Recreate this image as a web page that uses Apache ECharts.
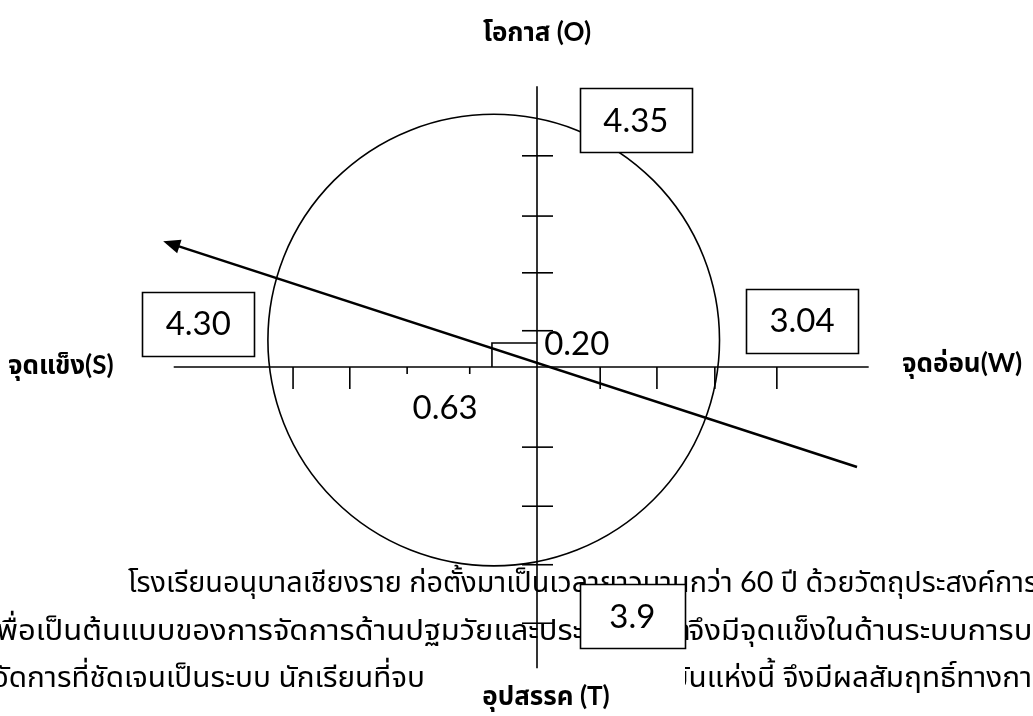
<!DOCTYPE html>
<html><head><meta charset="utf-8">
<script src="https://cdn.jsdelivr.net/npm/echarts@6/dist/echarts.min.js"></script>
<style>html,body{margin:0;padding:0;background:#fff;overflow:hidden}#c{width:1033px;height:716px}</style>
</head><body><div id="c"></div>
<script>
// ---------- values ----------
const quadrantNames = ['โอกาส', 'จุดแข็ง', 'จุดอ่อน', 'อุปสรรค'];
const quadrantLetters = ['O', 'S', 'W', 'T'];
const quadrantScores = [4.35, 4.30, 3.04, 3.9];
const scoreLabels = ['4.35', '4.30', '3.04', '3.9'];
const offsetValues = [0.20, 0.63];
const offsetLabels = ['0.20', '0.63'];

// ---------- diagram geometry (axis units) ----------
const scoreBoxPos = [[1.69, 4.22], [-5.79, 0.74], [4.53, 0.79], [1.63, -4.26]];
const offsetLabelPos = [[0.68, 0.39], [-1.57, -0.70]];
const hAxisRange = [-6.21, 5.67];
const vAxisRange = [-5.15, 4.80];
const xTicksLong = [-4.17, -3.20, 1.08, 2.05, 3.04, 4.10];
const xTicksShort = [-2.22, -1.15];
const yTicks = [3.61, 2.58, 1.61, 0.62, -1.37, -2.38, -3.38, -4.38];
const circleDef = [-0.74, 0.46, 3.86];
const arrowDef = [5.47, -1.71, -6.39, 2.15];
const rightAngle = [-0.77, 0.41];

// ---------- paragraph ----------
const paraLine1 = 'โรงเรียนอนุบาลเชียงราย ก่อตั้งมาเป็นเวลายาวนานกว่า 60 ปี ด้วยวัตถุประสงค์การ';
const paraLine1Tail = 'จัดตั้ง';
const paraLine2a = 'เพื่อเป็นต้นแบบของการจัดการด้านปฐมวัยและประ';
const paraLine2aHidden = 'ถมศึกษา';
const paraLine2b = 'จึงมีจุดแข็งในด้านระบบการบริหาร';
const paraLine3a = 'จัดการที่ชัดเจนเป็นระบบ นักเรียนที่จบ';
const paraLine3b = 'บันแห่งนี้ จึงมีผลสัมฤทธิ์ทางการเรียนสูง';

const W = 1033, H = 716, OX = 537, OY = 367, U = 58.5;
const THAI = 'Lato, "Noto Sans Thai", "Noto Sans Thai UI", Loma, Garuda, sans-serif';
const PARA_SIZE = 29;
const paraFont = PARA_SIZE + 'px ' + THAI;
const NUM_FONT = '33px Lato, "Open Sans", sans-serif';

const mctx = document.createElement('canvas').getContext('2d');
function tw(t, font) { mctx.font = font; return mctx.measureText(t).width; }

const chart = echarts.init(document.getElementById('c'), null, {renderer: 'canvas'});
const BLACK = '#000';

function paraText(text, x, midY, sx, align) {
  return {type: 'text', z: 0, x: x, y: midY, scaleX: sx, silent: true,
    style: {text: text, font: paraFont, fill: '#000', align: align || 'left', verticalAlign: 'middle'}};
}
const L1 = 583, L2 = 631, L3 = 678;
// horizontal fit of each paragraph line to the reference layout
const s1 = 910 / tw(paraLine1, paraFont);
const s2 = 595 / tw(paraLine2a, paraFont);
const s3 = 432 / tw(paraLine3a, paraFont);
const graphics = [
  paraText(paraLine1 + paraLine1Tail, 128, L1, s1),
  paraText(paraLine2a + paraLine2aHidden, 583 - s2 * tw(paraLine2a, paraFont), L2, s2),
  paraText(paraLine2b, 688, L2, s2),
  paraText(paraLine3a, 425, L3, s3, 'right'),
  paraText(paraLine3b, 685 - s3 * tw('บ', paraFont) * 0.8, L3, s3),
  {type: 'rect', z: 1, silent: true, shape: {x: 426, y: 655, width: 259, height: 61}, style: {fill: '#fff'}}
];

function lineSeries(name, data, render, z) {
  return {type: 'custom', name: name, data: data, renderItem: render, z: z || 3, silent: true, clip: false, animation: false};
}

const option = {
  animation: false,
  grid: {left: 0, right: 0, top: 0, bottom: 0},
  xAxis: {type: 'value', min: -OX / U, max: (W - OX) / U, show: false},
  yAxis: {type: 'value', min: -(H - OY) / U, max: OY / U, show: false},
  graphic: {elements: graphics},
  series: [
    lineSeries('axes', [[hAxisRange[0], 0, hAxisRange[1], 0], [0, vAxisRange[0], 0, vAxisRange[1]]], function (p, api) {
      const a = api.coord([api.value(0), api.value(1)]), b = api.coord([api.value(2), api.value(3)]);
      return {type: 'line', shape: {x1: a[0], y1: a[1], x2: b[0], y2: b[1]}, style: {stroke: BLACK, lineWidth: 1.6}};
    }),
    lineSeries('xticks', xTicksLong.map(v => [v, 1]).concat(xTicksShort.map(v => [v, 0])), function (p, api) {
      const a = api.coord([api.value(0), 0]);
      const len = api.value(1) ? 22 : 7;
      return {type: 'line', shape: {x1: a[0], y1: a[1], x2: a[0], y2: a[1] + len}, style: {stroke: BLACK, lineWidth: 1.6}};
    }),
    lineSeries('yticks', yTicks.map(v => [0, v]), function (p, api) {
      const a = api.coord([0, api.value(1)]);
      return {type: 'line', shape: {x1: a[0] - 15, y1: a[1], x2: a[0] + 16, y2: a[1]}, style: {stroke: BLACK, lineWidth: 1.6}};
    }),
    lineSeries('circle', [circleDef], function (p, api) {
      const c = api.coord([api.value(0), api.value(1)]);
      const r = api.size([api.value(2), 0])[0];
      return {type: 'circle', shape: {cx: c[0], cy: c[1], r: r}, style: {fill: 'none', stroke: BLACK, lineWidth: 1.6}};
    }),
    lineSeries('rightAngle', [rightAngle], function (p, api) {
      const a = api.coord([api.value(0), api.value(1)]), o = api.coord([0, 0]);
      return {type: 'polyline', shape: {points: [[a[0], o[1]], [a[0], a[1]], [o[0], a[1]]]}, style: {fill: 'none', stroke: BLACK, lineWidth: 1.6}};
    }),
    lineSeries('arrow', [arrowDef], function (p, api) {
      const a = api.coord([api.value(0), api.value(1)]), b = api.coord([api.value(2), api.value(3)]);
      const dx = b[0] - a[0], dy = b[1] - a[1], L = Math.sqrt(dx * dx + dy * dy);
      const ux = dx / L, uy = dy / L, hl = 17, hw = 7;
      const bx = b[0] - ux * hl, by = b[1] - uy * hl;
      return {type: 'group', children: [
        {type: 'line', shape: {x1: a[0], y1: a[1], x2: bx + ux * 2, y2: by + uy * 2}, style: {stroke: BLACK, lineWidth: 2.6}},
        {type: 'polygon', shape: {points: [[b[0], b[1]], [bx - uy * hw, by + ux * hw], [bx + uy * hw, by - ux * hw]]}, style: {fill: BLACK}}
      ]};
    }, 4),
    lineSeries('scores', scoreBoxPos.map((p, i) => [p[0], p[1], quadrantScores[i]]), function (p, api) {
      const c = api.coord([api.value(0), api.value(1)]);
      const label = scoreLabels[p.dataIndex];
      const w = label.length > 3 ? 112 : 105, h = 64;
      return {type: 'group', children: [
        {type: 'rect', shape: {x: Math.round(c[0] - w / 2) + 0.5, y: Math.round(c[1] - h / 2) + 0.5, width: w, height: h}, style: {fill: '#fff', stroke: BLACK, lineWidth: 1.6}},
        {type: 'text', style: {text: label, x: c[0], y: c[1] + 1, align: 'center', verticalAlign: 'middle', font: NUM_FONT, fill: BLACK}}
      ]};
    }, 6),
    lineSeries('offsets', offsetLabelPos.map((p, i) => [p[0], p[1], offsetValues[i]]), function (p, api) {
      const c = api.coord([api.value(0), api.value(1)]);
      return {type: 'text', style: {text: offsetLabels[p.dataIndex], x: c[0], y: c[1], align: 'center', verticalAlign: 'middle', font: NUM_FONT, fill: BLACK}};
    }, 6)
  ]
};

const nameFont = 'bold 26px ' + THAI;
const namePos = [[537, 33, 'center'], [8, 366, 'left'], [902, 364, 'left'], [546, 697, 'center']];
quadrantNames.forEach(function (n, i) {
  const txt = i === 0 || i === 3 ? n + ' (' + quadrantLetters[i] + ')' : n + '(' + quadrantLetters[i] + ')';
  graphics.push({type: 'text', z: 10, silent: true, x: namePos[i][0], y: namePos[i][1],
    style: {text: txt, font: nameFont, fill: '#000', align: namePos[i][2], verticalAlign: 'middle'}});
});

chart.setOption(option);
</script></body></html>
